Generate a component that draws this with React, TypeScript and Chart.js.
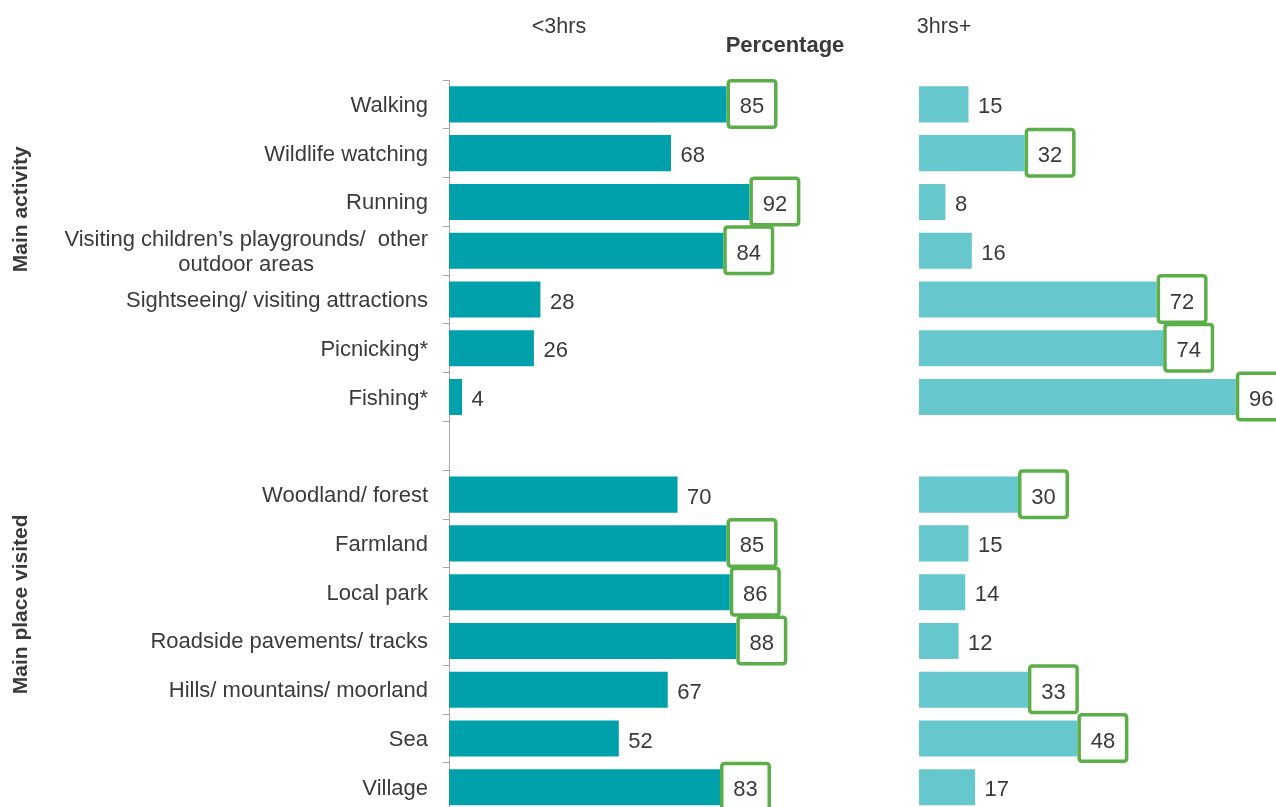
import React, { useEffect, useRef } from 'react';
import { Chart, registerables } from 'chart.js';

Chart.register(...registerables);

const categories: (string | string[])[] = [
  'Walking',
  'Wildlife watching',
  'Running',
  ['Visiting children’s playgrounds/  other', 'outdoor areas'],
  'Sightseeing/ visiting attractions',
  'Picnicking*',
  'Fishing*',
  '',
  'Woodland/ forest',
  'Farmland',
  'Local park',
  'Roadside pavements/ tracks',
  'Hills/ mountains/ moorland',
  'Sea',
  'Village',
];

const under3Values = [85, 68, 92, 84, 28, 26, 4, null, 70, 85, 86, 88, 67, 52, 83];
const over3Values = [15, 32, 8, 16, 72, 74, 96, null, 30, 15, 14, 12, 33, 48, 17];

const under3Boxed = [true, false, true, true, false, false, false, false, false, true, true, true, false, false, true];
const over3Boxed = [false, true, false, false, true, true, true, false, true, false, false, false, true, true, false];

const seriesNames = ['<3hrs', '3hrs+'];
const axisTitle = 'Percentage';
const groupNames = ['Main activity', 'Main place visited'];

const FONT = "'Liberation Sans', Arial, sans-serif";
const TEXT = '#3a3a3a';
const GREEN = '#5bae48';
const W = 1276;
const H = 830;

function roundRect(ctx: CanvasRenderingContext2D, x: number, y: number, w: number, h: number, r: number) {
  ctx.beginPath();
  ctx.moveTo(x + r, y);
  ctx.lineTo(x + w - r, y);
  ctx.quadraticCurveTo(x + w, y, x + w, y + r);
  ctx.lineTo(x + w, y + h - r);
  ctx.quadraticCurveTo(x + w, y + h, x + w - r, y + h);
  ctx.lineTo(x + r, y + h);
  ctx.quadraticCurveTo(x, y + h, x, y + h - r);
  ctx.lineTo(x, y + r);
  ctx.quadraticCurveTo(x, y, x + r, y);
  ctx.closePath();
}

function valueLabelPlugin(boxed: boolean[]) {
  return {
    id: 'valueLabels',
    afterDatasetsDraw(chart: any) {
      const ctx: CanvasRenderingContext2D = chart.ctx;
      const meta = chart.getDatasetMeta(0);
      const data = chart.data.datasets[0].data;
      ctx.save();
      ctx.font = `22px ${FONT}`;
      ctx.textBaseline = 'alphabetic';
      meta.data.forEach((el: any, i: number) => {
        const v = data[i];
        if (v === null || v === undefined) return;
        const x = el.x;
        const y = el.y;
        if (boxed[i]) {
          const bw = 47.5;
          const bh = 46.5;
          ctx.fillStyle = '#ffffff';
          ctx.strokeStyle = GREEN;
          ctx.lineWidth = 3.5;
          roundRect(ctx, x + 1.75, y - bh / 2 - 0.5, bw, bh, 3);
          ctx.fill();
          ctx.stroke();
          ctx.fillStyle = TEXT;
          ctx.textAlign = 'center';
          ctx.fillText(String(v), x + 1.75 + bw / 2, y + 9);
        } else {
          ctx.fillStyle = TEXT;
          ctx.textAlign = 'left';
          ctx.fillText(String(v), x + 9.5, y + 9);
        }
      });
      ctx.restore();
    },
  };
}

const leftTextPlugin = {
  id: 'leftText',
  afterDraw(chart: any) {
    const ctx: CanvasRenderingContext2D = chart.ctx;
    const yScale = chart.scales.y;
    const area = chart.chartArea;
    ctx.save();
    ctx.fillStyle = TEXT;
    ctx.font = `22px ${FONT}`;
    ctx.textBaseline = 'alphabetic';
    ctx.textAlign = 'center';
    const rightEdge = area.left - 21;
    categories.forEach((lab, i) => {
      const lines = Array.isArray(lab) ? lab : [lab];
      if (!lines.join('')) return;
      const maxW = Math.max(...lines.map((l) => ctx.measureText(l).width));
      const cx = rightEdge - maxW / 2;
      const cy = yScale.getPixelForValue(i);
      lines.forEach((line, j) => {
        const off = (j - (lines.length - 1) / 2) * 25;
        ctx.fillText(line, cx, cy + 7.5 + off);
      });
    });
    // Group labels (rotated)
    ctx.font = `bold 21px ${FONT}`;
    const groupPos = [2.15, 10.25];
    groupNames.forEach((g, k) => {
      ctx.save();
      ctx.translate(21, yScale.getPixelForValue(groupPos[k]));
      ctx.rotate(-Math.PI / 2);
      ctx.textAlign = 'center';
      ctx.textBaseline = 'middle';
      ctx.fillText(g, 0, 0);
      ctx.restore();
    });
    // Series title and axis title
    ctx.font = `21.5px ${FONT}`;
    ctx.textAlign = 'center';
    ctx.fillText(seriesNames[0], 559, 33);
    ctx.font = `bold 22px ${FONT}`;
    ctx.fillText(axisTitle, 785, 52);
    ctx.restore();
  },
};

const rightTextPlugin = {
  id: 'rightText',
  afterDraw(chart: any) {
    const ctx: CanvasRenderingContext2D = chart.ctx;
    ctx.save();
    ctx.fillStyle = TEXT;
    ctx.font = `21.5px ${FONT}`;
    ctx.textAlign = 'center';
    ctx.textBaseline = 'alphabetic';
    ctx.fillText(seriesNames[1], 944, 33);
    ctx.restore();
  },
};

function buildConfig(
  values: (number | null)[],
  boxed: boolean[],
  color: string,
  padLeft: number,
  padRight: number,
  showYAxis: boolean,
  textPlugin: any,
  label: string
): any {
  const yScale: any = {
    display: showYAxis,
    ticks: { display: false },
    grid: {
      display: true,
      offset: true,
      drawOnChartArea: false,
      drawTicks: true,
      tickLength: 6,
      color: '#a6a6a6',
      lineWidth: 1,
    },
    border: { display: true, color: '#a6a6a6', width: 1 },
  };
  if (showYAxis) {
    yScale.afterFit = (s: any) => {
      s.width = 449;
    };
  }
  return {
    type: 'bar',
    data: {
      labels: categories.map((c) => (Array.isArray(c) ? c.join(' ') : c)),
      datasets: [
        {
          label,
          data: values,
          backgroundColor: color,
          borderWidth: 0,
          barPercentage: 0.74,
          categoryPercentage: 1,
        },
      ],
    },
    options: {
      indexAxis: 'y',
      animation: false,
      responsive: false,
      maintainAspectRatio: false,
      devicePixelRatio: 1,
      layout: { padding: { left: padLeft, right: padRight, top: 80, bottom: 18.3 } },
      plugins: { legend: { display: false }, tooltip: { enabled: false }, title: { display: false } },
      scales: {
        x: { display: false, min: 0, max: 100 },
        y: yScale,
      },
    },
    plugins: [valueLabelPlugin(boxed), textPlugin],
  };
}

export default function App() {
  const leftRef = useRef<HTMLCanvasElement>(null);
  const rightRef = useRef<HTMLCanvasElement>(null);

  useEffect(() => {
    const left = new Chart(
      leftRef.current as HTMLCanvasElement,
      buildConfig(under3Values, under3Boxed, '#00a1aa', 0, W - 775.5, true, leftTextPlugin, seriesNames[0])
    );
    const right = new Chart(
      rightRef.current as HTMLCanvasElement,
      buildConfig(over3Values, over3Boxed, '#66c7cc', 919, W - 1249, false, rightTextPlugin, seriesNames[1])
    );
    return () => {
      left.destroy();
      right.destroy();
    };
  }, []);

  const canvasStyle: React.CSSProperties = {
    position: 'absolute',
    left: 0,
    top: 0,
    width: W,
    height: H,
  };

  return (
    <div
      style={{
        position: 'fixed',
        left: 0,
        top: 0,
        width: W,
        height: 807,
        overflow: 'hidden',
        background: '#ffffff',
      }}
    >
      <canvas ref={leftRef} width={W} height={H} style={canvasStyle} />
      <canvas ref={rightRef} width={W} height={H} style={canvasStyle} />
    </div>
  );
}
